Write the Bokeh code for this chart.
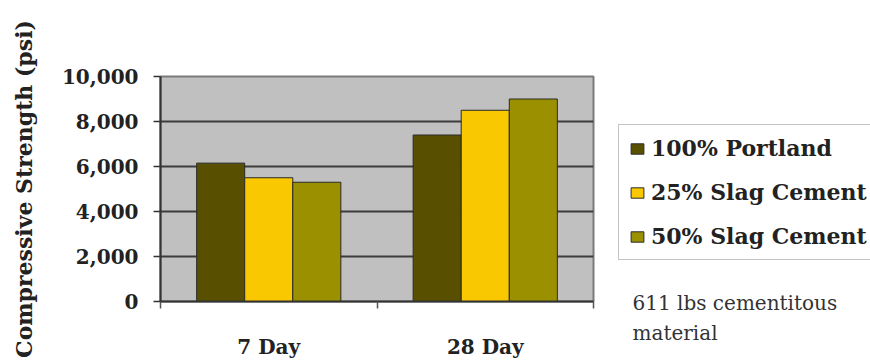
from bokeh.plotting import figure
from bokeh.layouts import row, column
from bokeh.models import (Range1d, FixedTicker, Legend, LegendItem, Label,
                          NumeralTickFormatter)
from bokeh.embed import file_html
from bokeh.resources import INLINE

# ---- data ----
categories = ["7 Day", "28 Day"]
series_names = ["100% Portland", "25% Slag Cement", "50% Slag Cement"]
portland = [6150, 7400]
slag25 = [5500, 8500]
slag50 = [5300, 9000]
y_ticks = [0, 2000, 4000, 6000, 8000, 10000]
note_lines = ["611 lbs cementitous", "material"]

colors = ["#585000", "#fac800", "#9b9100"]
series = [portland, slag25, slag50]

SERIF = "DejaVu Serif"
W1 = 610

p = figure(width=W1, height=361, output_backend="svg", toolbar_location=None,
           x_range=Range1d(0, len(categories)), y_range=Range1d(0, 10000),
           min_border_left=160, min_border_right=W1 - 593, min_border_top=76,
           min_border_bottom=60)
p.background_fill_color = "#c0c0c0"
p.border_fill_color = "white"
p.outline_line_color = "#7a7a7a"
p.outline_line_width = 2

bw = 0.222
offsets = [-bw, 0.0, bw]
for vals, col, off in zip(series, colors, offsets):
    xs = [i + 0.5 + off for i in range(len(categories))]
    p.vbar(x=xs, top=vals, width=bw, bottom=0, fill_color=col,
           line_color="#2a2a2a", line_width=1)

# y axis
p.yaxis.ticker = FixedTicker(ticks=y_ticks, minor_ticks=[])
p.yaxis.formatter = NumeralTickFormatter(format="0,0")
p.yaxis.axis_label = "Compressive Strength (psi)"
p.yaxis.axis_label_text_font = SERIF
p.yaxis.axis_label_text_font_style = "bold"
p.yaxis.axis_label_text_font_size = "22px"
p.yaxis.axis_label_text_color = "#222222"
p.yaxis.axis_label_standoff = 22
p.yaxis.major_label_text_font = SERIF
p.yaxis.major_label_text_font_style = "bold"
p.yaxis.major_label_text_font_size = "20px"
p.yaxis.major_label_text_color = "#222222"
p.yaxis.major_label_standoff = 15
p.yaxis.major_tick_out = 7
p.yaxis.major_tick_in = 0
p.yaxis.axis_line_color = "#333333"
p.yaxis.axis_line_width = 2
p.yaxis.major_tick_line_color = "#333333"
p.yaxis.major_tick_line_width = 1.5

# x axis: labels at centres, ticks at category boundaries
p.xaxis.ticker = FixedTicker(ticks=[i + 0.5 for i in range(len(categories))],
                             minor_ticks=list(range(len(categories) + 1)))
p.xaxis.major_label_overrides = {i + 0.5: c for i, c in enumerate(categories)}
p.xaxis.major_label_text_font = SERIF
p.xaxis.major_label_text_font_style = "bold"
p.xaxis.major_label_text_font_size = "20px"
p.xaxis.major_label_text_color = "#222222"
p.xaxis.major_label_standoff = 26
p.xaxis.major_tick_out = 0
p.xaxis.major_tick_in = 0
p.xaxis.major_tick_line_color = None
p.xaxis.minor_tick_out = 7
p.xaxis.minor_tick_in = 0
p.xaxis.minor_tick_line_color = "#555555"
p.xaxis.minor_tick_line_width = 1.5
p.xaxis.axis_line_color = "#333333"
p.xaxis.axis_line_width = 2

# grid
p.xgrid.grid_line_color = None
p.ygrid.ticker = FixedTicker(ticks=y_ticks)
p.ygrid.grid_line_color = "#3c3c3c"
p.ygrid.grid_line_width = 2

# ---- right-hand panel: legend and note ----
W2 = 870 - W1
p2 = figure(width=W2, height=361, output_backend="svg", toolbar_location=None,
            x_range=Range1d(0, 1), y_range=Range1d(0, 1),
            x_axis_type=None, y_axis_type=None, min_border=0)
p2.outline_line_color = None
p2.grid.grid_line_color = None
p2.background_fill_color = "white"
p2.border_fill_color = "white"

legend_renderers = []
for vals, col, off in zip(series, colors, offsets):
    xs = [i + 0.5 + off for i in range(len(categories))]
    r = p2.vbar(x=xs, top=vals, width=bw, bottom=0, fill_color=col,
                line_color="#2a2a2a", line_width=1)
    r.visible = False  # only its legend swatch is shown
    legend_renderers.append(r)
items = [LegendItem(label=n, renderers=[r]) for n, r in zip(series_names, legend_renderers)]
legend = Legend(items=items, location=(618 - W1, 361 - 260), orientation="vertical")
legend.label_text_font = SERIF
legend.label_text_font_style = "bold"
legend.label_text_font_size = "22px"
legend.label_text_color = "#222222"
legend.glyph_width = 16
legend.glyph_height = 13
legend.label_height = 22
legend.label_standoff = 6
legend.spacing = 18
legend.padding = 10
legend.margin = 0
legend.border_line_color = "#8a8a8a"
legend.border_line_width = 1.5
legend.background_fill_color = "white"
legend.background_fill_alpha = 1
p2.add_layout(legend, "center")

for k, t in enumerate(note_lines):
    p2.add_layout(Label(x=632 - W1, y=361 - 302 - 30 * k, x_units="screen", y_units="screen",
                        text=t, text_font=SERIF, text_font_size="20px",
                        text_color="#333333", text_baseline="middle"))

open("out.html", "w").write(file_html(row(p, column(p2)), INLINE))
